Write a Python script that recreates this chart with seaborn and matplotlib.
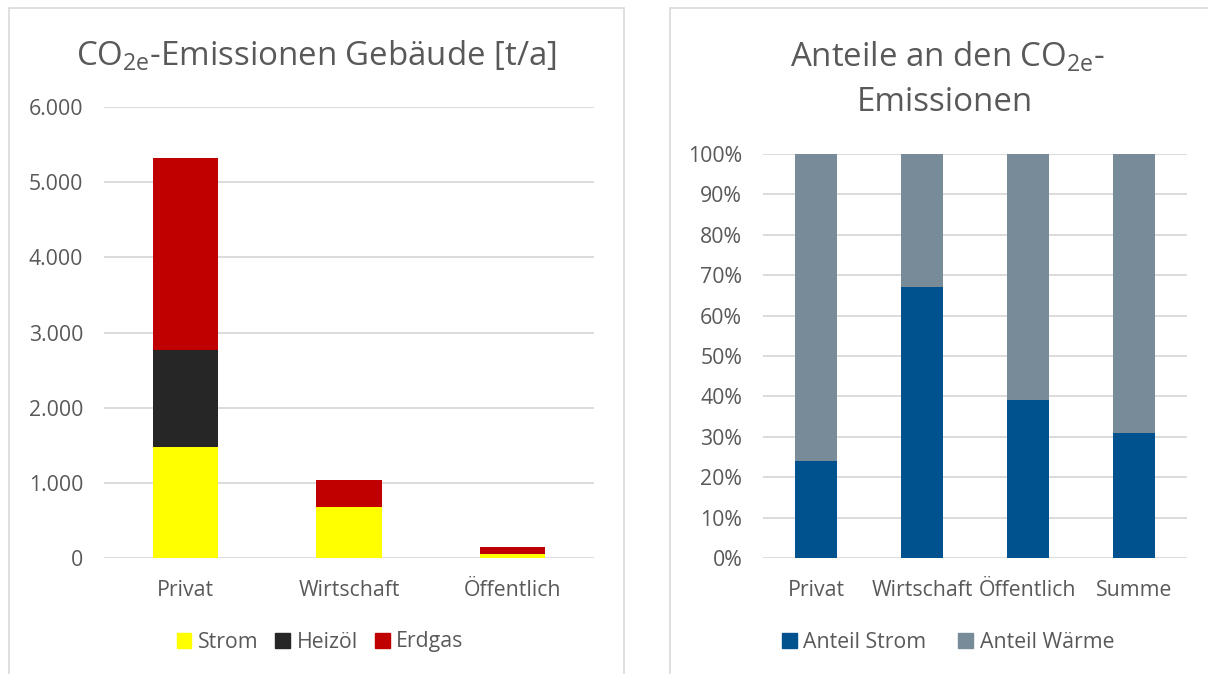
import matplotlib
matplotlib.use("Agg")
import matplotlib.pyplot as plt
import seaborn as sns
import pandas as pd
from matplotlib.patches import Patch, Rectangle
from matplotlib.ticker import FuncFormatter, MultipleLocator

# ---------------- data ----------------
kategorien = ["Privat", "Wirtschaft", "Öffentlich"]
strom = [1480, 680, 50]
heizoel = [1290, 0, 0]
erdgas = [2550, 360, 100]

anteil_kategorien = ["Privat", "Wirtschaft", "Öffentlich", "Summe"]
anteil_strom = [0.24, 0.67, 0.39, 0.31]
anteil_waerme = [0.76, 0.33, 0.61, 0.69]

left_title = r"CO$_{\mathregular{2e}}$-Emissionen Gebäude [t/a]"
right_title_1 = r"Anteile an den CO$_{\mathregular{2e}}$-"
right_title_2 = "Emissionen"

# ---------------- style ----------------
FONT = "Open Sans"
sns.set_theme(style="white")
plt.rcParams["font.family"] = [FONT, "DejaVu Sans"]
plt.rcParams["mathtext.fontset"] = "custom"
plt.rcParams["mathtext.rm"] = FONT
plt.rcParams["mathtext.it"] = FONT + ":italic"
plt.rcParams["mathtext.bf"] = FONT + ":bold"

TXT = "#595959"
GRID = "#D9D9D9"
C_STROM, C_HEIZ, C_GAS = "#FFFF00", "#262626", "#C00000"
C_BLUE, C_GREY = "#00528F", "#778C98"
FS = 15.3
TFS = 23.8

W, H = 1208, 674
fig = plt.figure(figsize=(W / 100, H / 100), dpi=100)
fig.patch.set_facecolor("white")

def fx(px):
    return px / W

def fy(py):
    return 1 - py / H

# panel borders
for x0, x1 in [(9, 624), (670, 1215)]:
    fig.patches.append(Rectangle((fx(x0), fy(690)), fx(x1 - x0), (690 - 8) / H,
                                 transform=fig.transFigure, fill=False,
                                 edgecolor="#D9D9D9", linewidth=1.2, zorder=0))

def style_axes(ax):
    for s in ax.spines.values():
        s.set_visible(False)
    ax.yaxis.grid(True, color=GRID, linewidth=1.3)
    ax.set_axisbelow(True)
    ax.tick_params(axis="both", length=0, colors=TXT, labelsize=FS)
    ax.tick_params(axis="y", pad=15)
    ax.tick_params(axis="x", pad=16)
    ax.set_xlabel("")
    ax.set_ylabel("")

# ---------------- left chart ----------------
axL = fig.add_axes([fx(104), fy(558), fx(490), (558 - 107) / H])
df = pd.DataFrame({"Kategorie": kategorien, "Strom": strom,
                   "Heizöl": heizoel, "Erdgas": erdgas})
bottom = [0] * len(kategorien)
for col, c in [("Strom", C_STROM), ("Heizöl", C_HEIZ), ("Erdgas", C_GAS)]:
    sns.barplot(data=df, x="Kategorie", y=col, color=c, saturation=1,
                width=0.4, bottom=bottom, ax=axL, linewidth=0)
    bottom = [b + v for b, v in zip(bottom, df[col])]
axL.set_ylim(0, 6000)
axL.set_xlim(-0.5, 2.5)
axL.yaxis.set_major_locator(MultipleLocator(1000))
axL.yaxis.set_major_formatter(FuncFormatter(lambda v, p: f"{v:,.0f}".replace(",", ".")))
style_axes(axL)
fig.text(fx(316), fy(66), left_title, ha="center", va="baseline",
         fontsize=TFS, color=TXT)
fig.legend(handles=[Patch(color=C_STROM, label="Strom"),
                    Patch(color=C_HEIZ, label="Heizöl"),
                    Patch(color=C_GAS, label="Erdgas")],
           loc="center", bbox_to_anchor=(fx(320), fy(642)), ncol=3,
           frameon=False, fontsize=FS, labelcolor=TXT,
           handlelength=0.7, handleheight=0.7, handletextpad=0.3,
           columnspacing=0.8)

# ---------------- right chart ----------------
axR = fig.add_axes([fx(763), fy(558), fx(424), (558 - 154) / H])
dfr = pd.DataFrame({"Kategorie": anteil_kategorien,
                    "Anteil Strom": anteil_strom,
                    "Anteil Wärme": anteil_waerme})
sns.barplot(data=dfr, x="Kategorie", y="Anteil Strom", color=C_BLUE,
            saturation=1, width=0.4, ax=axR, linewidth=0)
sns.barplot(data=dfr, x="Kategorie", y="Anteil Wärme", color=C_GREY,
            saturation=1, width=0.4, bottom=dfr["Anteil Strom"].tolist(),
            ax=axR, linewidth=0)
axR.set_ylim(0, 1)
axR.set_xlim(-0.5, 3.5)
axR.yaxis.set_major_locator(MultipleLocator(0.1))
axR.yaxis.set_major_formatter(FuncFormatter(lambda v, p: f"{v * 100:.0f}%"))
style_axes(axR)
fig.text(fx(948), fy(67), right_title_1, ha="center", va="baseline",
         fontsize=TFS, color=TXT)
fig.text(fx(945), fy(111), right_title_2, ha="center", va="baseline",
         fontsize=TFS, color=TXT)
fig.legend(handles=[Patch(color=C_BLUE, label="Anteil Strom"),
                    Patch(color=C_GREY, label="Anteil Wärme")],
           loc="center", bbox_to_anchor=(fx(948), fy(642)), ncol=2,
           frameon=False, fontsize=FS, labelcolor=TXT,
           handlelength=0.7, handleheight=0.7, handletextpad=0.3,
           columnspacing=1.5)

fig.savefig("out.png", dpi=100, facecolor="white")
